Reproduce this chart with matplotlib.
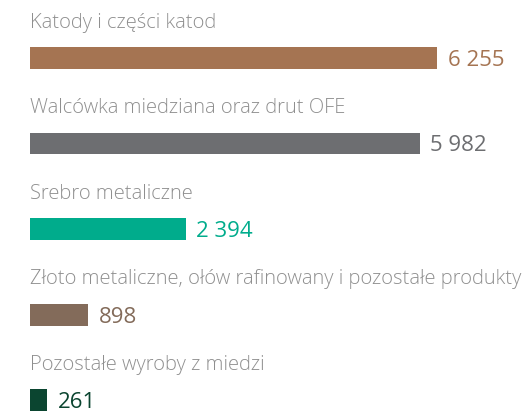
import matplotlib
matplotlib.use("Agg")
import matplotlib.pyplot as plt

# Dane
kategorie = [
    "Katody i części katod",
    "Walcówka miedziana oraz drut OFE",
    "Srebro metaliczne",
    "Złoto metaliczne, ołów rafinowany i pozostałe produkty",
    "Pozostałe wyroby z miedzi",
]
wartosci = [6255, 5982, 2394, 898, 261]
etykiety = ["6 255", "5 982", "2 394", "898", "261"]
kolory = ["#A57452", "#6D6E71", "#00AC8C", "#836B5A", "#0B4530"]

plt.rcParams['font.family'] = ['Open Sans', 'DejaVu Sans']

fig = plt.figure(figsize=(5.25, 4.15), dpi=100)
ax = fig.add_axes([30 / 525, 0, 495 / 525, 1])

pozycje = list(range(len(wartosci)))
ax.barh(pozycje, wartosci, height=0.257, color=kolory)

for i, (kat, w, et, kol) in enumerate(zip(kategorie, wartosci, etykiety, kolory)):
    ax.text(0, i - 0.355, kat, fontsize=14.5, color="#8f8f8f",
            fontweight="light", va="baseline", ha="left", clip_on=False)
    ax.text(w + 160, i, et, fontsize=16, color=kol,
            va="center_baseline", ha="left")

ax.set_xlim(0, 7600)
ax.set_ylim(4.175, -0.678)
ax.axis("off")

plt.savefig("out.png", dpi=100)
